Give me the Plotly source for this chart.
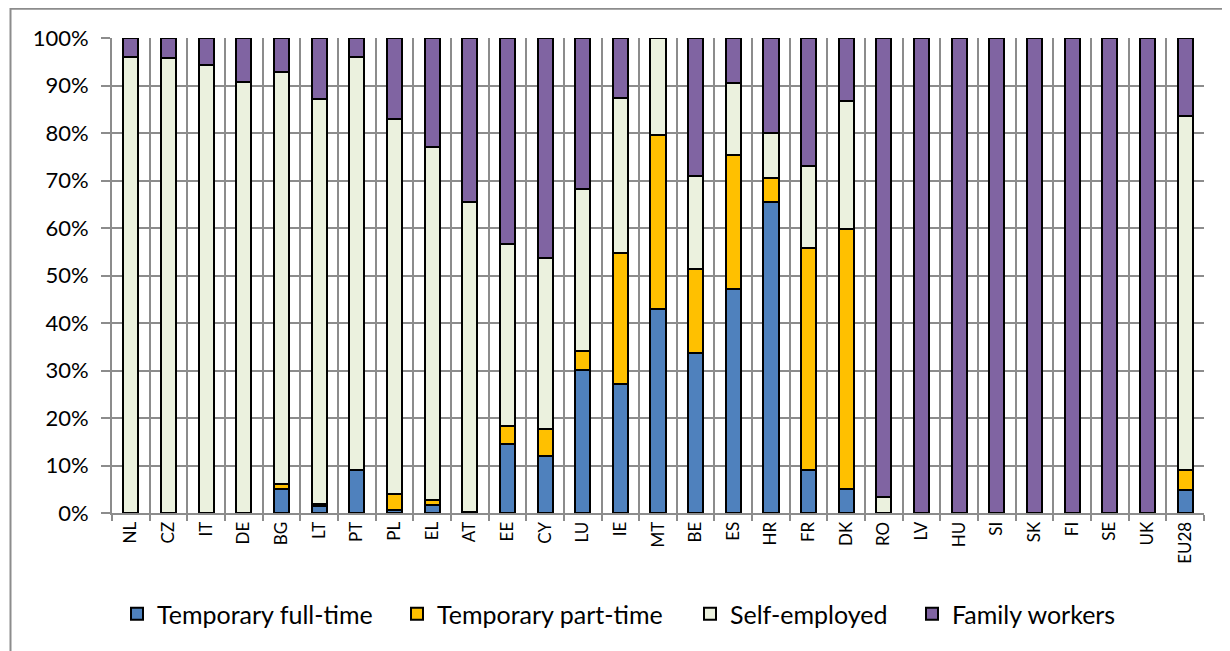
import plotly.graph_objects as go

countries = ["NL", "CZ", "IT", "DE", "BG", "LT", "PT", "PL", "EL", "AT", "EE", "CY", "LU", "IE",
             "MT", "BE", "ES", "HR", "FR", "DK", "RO", "LV", "HU", "SI", "SK", "FI", "SE", "UK", "EU28"]

temp_full_time = [0.0, 0.0, 0.0, 0.0, 5.1, 1.5, 9.1, 0.7, 1.6, 0.3, 14.6, 12.1, 30.1, 27.1,
                  42.9, 33.6, 47.1, 65.4, 9.1, 5.0, 0.0, 0.0, 0.0, 0.0, 0.0, 0.0, 0.0, 0.0, 4.9]
temp_part_time = [0.0, 0.0, 0.0, 0.0, 1.1, 0.3, 0.0, 3.2, 1.2, 0.0, 3.8, 5.5, 4.1, 27.7,
                  36.6, 17.8, 28.3, 5.1, 46.7, 54.7, 0.0, 0.0, 0.0, 0.0, 0.0, 0.0, 0.0, 0.0, 4.1]
self_employed = [95.9, 95.7, 94.3, 90.8, 86.7, 85.4, 87.0, 79.1, 74.3, 65.2, 38.2, 36.0, 34.1, 32.5,
                 20.5, 19.5, 15.2, 9.6, 17.2, 27.0, 3.4, 0.0, 0.0, 0.0, 0.0, 0.0, 0.0, 0.0, 74.5]
family_workers = [4.1, 4.3, 5.7, 9.2, 7.1, 12.8, 3.9, 17.0, 22.9, 34.5, 43.4, 46.4, 31.7, 12.7,
                  0.0, 29.1, 9.4, 19.9, 27.0, 13.3, 96.6, 100.0, 100.0, 100.0, 100.0, 100.0, 100.0, 100.0, 16.5]

series_names = ["Temporary full-time", "Temporary part-time", "Self-employed", "Family workers"]
series_values = [temp_full_time, temp_part_time, self_employed, family_workers]
series_colors = ["#4F81BD", "#FFC000", "#EBF1DE", "#8064A2"]

FONT = "Lato, Carlito, Calibri, sans-serif"

# figure size (page has an 8px body margin)
W, H = 1222, 643
ML, MR, MT, MB = 104, 26, 30, 138
PW = W - ML - MR
PH = H - MT - MB

legend_ids = ["legend", "legend2", "legend3", "legend4"]
legend_left_px = [109, 389, 682, 904]   # left edge of each legend entry in figure px
legend_mid_px = 606                     # vertical centre of legend row in figure px

fig = go.Figure()
for name, vals, col, lid in zip(series_names, series_values, series_colors, legend_ids):
    fig.add_trace(go.Bar(
        x=countries, y=[v / 100 for v in vals], name=name, legend=lid,
        marker=dict(color=col, line=dict(color="#000000", width=2)),
    ))

layout_legends = {}
for lid, lx in zip(legend_ids, legend_left_px):
    layout_legends[lid] = dict(
        x=(lx - ML) / PW, xanchor="left",
        y=(H - MB - legend_mid_px) / PH, yanchor="middle",
        font=dict(size=25, family=FONT, color="#000000"),
        bgcolor="rgba(0,0,0,0)", borderwidth=0, itemwidth=30,
    )

fig.update_layout(
    barmode="stack",
    bargap=0.6,
    width=W, height=H,
    margin=dict(l=ML, r=MR, t=MT, b=MB),
    paper_bgcolor="white", plot_bgcolor="white",
    font=dict(family=FONT, color="#000000"),
    showlegend=True,
    xaxis=dict(
        type="category", tickangle=-90, tickfont=dict(size=17, family=FONT),
        showline=True, linecolor="#8c8c8c", linewidth=2,
        ticks="outside", tickson="boundaries", ticklen=6, tickcolor="#8c8c8c", tickwidth=2,
        showgrid=True, gridcolor="#8c8c8c", gridwidth=1.5,
    ),
    yaxis=dict(
        range=[0, 1], tickformat=".0%", dtick=0.1, tickfont=dict(size=22, family=FONT),
        showline=True, linecolor="#8c8c8c", linewidth=2,
        ticks="outside", ticklen=9, tickcolor="#8c8c8c", tickwidth=2, ticklabelstandoff=8,
        showgrid=True, gridcolor="#8c8c8c", gridwidth=2, zeroline=False,
    ),
    shapes=[dict(type="rect", xref="paper", yref="paper",
                 x0=(2.5 - ML) / PW, x1=(W + 20 - ML) / PW,
                 y0=-(MB + 30) / PH, y1=(H - MB - 0.8) / PH,
                 line=dict(color="#8c8c8c", width=2), fillcolor="rgba(0,0,0,0)", layer="below")],
    **layout_legends,
)

fig.write_html("out.html")
